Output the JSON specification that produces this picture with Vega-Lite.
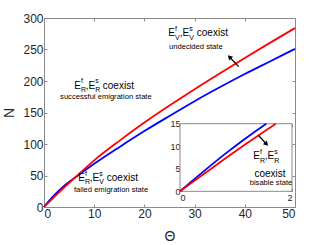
{
  "$schema": "https://vega.github.io/schema/vega-lite/v6.json",
  "width": 251,
  "height": 189,
  "autosize": {"type": "none"},
  "padding": {"left": 44, "top": 18, "right": 32, "bottom": 38},
  "background": "white",
  "config": {
    "view": {"stroke": "#8a8a8a", "strokeWidth": 1},
    "font": "Liberation Sans",
    "axis": {
      "grid": false,
      "tickSize": -3,
      "domainColor": "#8a8a8a",
      "tickColor": "#8a8a8a",
      "labelFont": "Liberation Sans",
      "labelFontSize": 12,
      "labelColor": "#262626",
      "titleFont": "Liberation Sans",
      "titleFontSize": 14,
      "titleFontWeight": "normal",
      "titleColor": "#262626"
    },
    "text": {"font": "Liberation Sans", "color": "#000000"}
  },
  "datasets": {
    "main": [
      {"theta": 0, "n": 0, "s": "blue"},
      {"theta": 1, "n": 9.6, "s": "blue"},
      {"theta": 2, "n": 18.5, "s": "blue"},
      {"theta": 4, "n": 33.5, "s": "blue"},
      {"theta": 6.5, "n": 48.5, "s": "blue"},
      {"theta": 10, "n": 68.5, "s": "blue"},
      {"theta": 15, "n": 95, "s": "blue"},
      {"theta": 20, "n": 120.5, "s": "blue"},
      {"theta": 25, "n": 144.5, "s": "blue"},
      {"theta": 30, "n": 168, "s": "blue"},
      {"theta": 35, "n": 190, "s": "blue"},
      {"theta": 40, "n": 211, "s": "blue"},
      {"theta": 45, "n": 231, "s": "blue"},
      {"theta": 50, "n": 251, "s": "blue"},
      {"theta": 0, "n": 0, "s": "red"},
      {"theta": 1, "n": 7.9, "s": "red"},
      {"theta": 2, "n": 15.6, "s": "red"},
      {"theta": 4, "n": 30.8, "s": "red"},
      {"theta": 6.5, "n": 49, "s": "red"},
      {"theta": 10, "n": 74, "s": "red"},
      {"theta": 15, "n": 105, "s": "red"},
      {"theta": 20, "n": 134, "s": "red"},
      {"theta": 25, "n": 161, "s": "red"},
      {"theta": 30, "n": 187, "s": "red"},
      {"theta": 35, "n": 212, "s": "red"},
      {"theta": 40, "n": 236.5, "s": "red"},
      {"theta": 45, "n": 260.5, "s": "red"},
      {"theta": 50, "n": 284, "s": "red"}
    ],
    "inset": [
      {"theta": 0, "n": 0, "s": "blue"},
      {"theta": 0.4, "n": 4.2, "s": "blue"},
      {"theta": 0.8, "n": 8.25, "s": "blue"},
      {"theta": 1.2, "n": 12.0, "s": "blue"},
      {"theta": 1.54, "n": 15, "s": "blue"},
      {"theta": 0, "n": 0, "s": "red"},
      {"theta": 0.4, "n": 3.6, "s": "red"},
      {"theta": 0.8, "n": 7.2, "s": "red"},
      {"theta": 1.2, "n": 10.7, "s": "red"},
      {"theta": 1.71, "n": 15, "s": "red"}
    ],
    "big": [
      {"theta": 24.76, "n": 270.95, "t": "E"},
      {"theta": 27.05, "n": 270.95, "t": ","},
      {"theta": 27.61, "n": 270.95, "t": "E"},
      {"theta": 30.44, "n": 270.95, "t": "coexist"},
      {"theta": 6.04, "n": 187.8, "t": "E"},
      {"theta": 8.33, "n": 187.8, "t": ","},
      {"theta": 8.88, "n": 187.8, "t": "E"},
      {"theta": 11.71, "n": 187.8, "t": "coexist"},
      {"theta": 6.83, "n": 40.8, "t": "E"},
      {"theta": 9.12, "n": 40.8, "t": ","},
      {"theta": 9.68, "n": 40.8, "t": "E"},
      {"theta": 12.51, "n": 40.8, "t": "coexist"},
      {"theta": 41.69, "n": 75.4, "t": "E"},
      {"theta": 43.98, "n": 75.4, "t": ","},
      {"theta": 44.54, "n": 75.4, "t": "E"},
      {"theta": 41.93, "n": 47.6, "t": "coexist"}
    ],
    "sup": [
      {"theta": 26.1, "n": 279.4, "t": "f"},
      {"theta": 28.94, "n": 279.4, "t": "s"},
      {"theta": 7.37, "n": 196.2, "t": "f"},
      {"theta": 10.22, "n": 196.2, "t": "s"},
      {"theta": 8.17, "n": 49.2, "t": "f"},
      {"theta": 11.02, "n": 49.2, "t": "s"},
      {"theta": 43.03, "n": 83.8, "t": "f"},
      {"theta": 45.88, "n": 83.8, "t": "s"}
    ],
    "sub": [
      {"theta": 26.1, "n": 265.3, "t": "V"},
      {"theta": 28.94, "n": 265.3, "t": "V"},
      {"theta": 7.37, "n": 182.1, "t": "R"},
      {"theta": 10.22, "n": 182.1, "t": "R"},
      {"theta": 8.17, "n": 35.8, "t": "R"},
      {"theta": 11.02, "n": 35.8, "t": "V"},
      {"theta": 43.03, "n": 69.7, "t": "R"},
      {"theta": 45.88, "n": 69.7, "t": "R"}
    ],
    "captions": [
      {"theta": 30.24, "n": 251.3, "t": "undecided state"},
      {"theta": 12.33, "n": 170.8, "t": "successful emigration state"},
      {"theta": 13.35, "n": 23.6, "t": "failed emigration state"},
      {"theta": 45.22, "n": 35.7, "t": "bisable state"}
    ]
  },
  "resolve": {
    "scale": {"x": "independent", "y": "independent"},
    "axis": {"x": "independent", "y": "independent"}
  },
  "layer": [
    {
      "data": {"name": "main"},
      "mark": {"type": "line", "strokeWidth": 1.8, "interpolate": "monotone"},
      "encoding": {
        "x": {
          "field": "theta", "type": "quantitative",
          "scale": {"domain": [0, 50], "nice": false, "zero": false},
          "axis": {"orient": "bottom", "values": [0, 10, 20, 30, 40, 50], "labelPadding": 4, "title": "Θ", "titlePadding": 10}
        },
        "y": {
          "field": "n", "type": "quantitative",
          "scale": {"domain": [0, 300], "nice": false, "zero": false},
          "axis": {"orient": "left", "values": [0, 50, 100, 150, 200, 250, 300], "labelPadding": 4, "title": "N", "titlePadding": 6}
        },
        "color": {"field": "s", "type": "nominal", "scale": {"domain": ["blue", "red"], "range": ["#0000ff", "#ff0000"]}, "legend": null}
      }
    },
    {
      "data": {"values": [{"theta": 0, "n": 0}]},
      "mark": {"type": "point", "opacity": 0},
      "encoding": {
        "x": {"field": "theta", "type": "quantitative", "scale": {"domain": [0, 50], "nice": false, "zero": false},
          "axis": {"orient": "top", "values": [0, 10, 20, 30, 40, 50], "labels": false, "domain": false, "title": null}},
        "y": {"field": "n", "type": "quantitative", "scale": {"domain": [0, 300], "nice": false, "zero": false},
          "axis": {"orient": "right", "values": [0, 50, 100, 150, 200, 250, 300], "labels": false, "domain": false, "title": null}}
      }
    },
    {
      "encoding": {
        "x": {
          "field": "theta", "type": "quantitative",
          "scale": {"domain": [0, 2], "nice": false, "zero": false, "range": [136, 248]},
          "axis": {"orient": "bottom", "offset": -15.7, "values": [0, 1, 2], "format": "d", "labelFontSize": 9, "labelPadding": 5, "title": null, "domain": false}
        },
        "y": {
          "field": "n", "type": "quantitative",
          "scale": {"domain": [0, 15], "nice": false, "zero": false, "range": [173.3, 105.7]},
          "axis": {"orient": "left", "offset": -136, "values": [0, 5, 10, 15], "format": "d", "labelFontSize": 9, "labelPadding": 3, "title": null, "domain": false}
        }
      },
      "layer": [
        {
          "data": {"values": [{"theta": 0, "n": 0, "theta2": 2, "n2": 15}]},
          "mark": {"type": "rect", "fill": "#ffffff", "stroke": "#8a8a8a", "strokeWidth": 1},
          "encoding": {"x2": {"field": "theta2"}, "y2": {"field": "n2"}}
        },
        {
          "data": {"name": "inset"},
          "mark": {"type": "line", "strokeWidth": 1.8, "interpolate": "monotone"},
          "encoding": {
            "color": {"field": "s", "type": "nominal", "scale": {"domain": ["blue", "red"], "range": ["#0000ff", "#ff0000"]}, "legend": null}
          }
        }
      ]
    },
    {
      "data": {"values": [{"theta": 0, "n": 0}]},
      "mark": {"type": "point", "opacity": 0},
      "encoding": {
        "x": {"field": "theta", "type": "quantitative", "scale": {"domain": [0, 2], "nice": false, "zero": false, "range": [136, 248]},
          "axis": {"orient": "top", "offset": -105.7, "values": [0, 1, 2], "labels": false, "domain": false, "title": null}},
        "y": {"field": "n", "type": "quantitative", "scale": {"domain": [0, 15], "nice": false, "zero": false, "range": [173.3, 105.7]},
          "axis": {"orient": "right", "offset": -3, "values": [0, 5, 10, 15], "labels": false, "domain": false, "title": null}}
      }
    },
    {
      "encoding": {
        "x": {"field": "theta", "type": "quantitative", "scale": {"domain": [0, 50], "nice": false, "zero": false}, "axis": null},
        "y": {"field": "n", "type": "quantitative", "scale": {"domain": [0, 300], "nice": false, "zero": false}, "axis": null}
      },
      "layer": [
        {
          "data": {"values": [{"theta": 38.78, "n": 222.7, "theta2": 36.95, "n2": 238.1}, {"theta": 42.73, "n": 113.5, "theta2": 44.32, "n2": 100}]},
          "mark": {"type": "rule", "color": "#000000", "strokeWidth": 1.2},
          "encoding": {"x2": {"field": "theta2"}, "y2": {"field": "n2"}}
        },
        {
          "data": {"values": [{"theta": 36.95, "n": 238.1}]},
          "mark": {"type": "point", "shape": "triangle-up", "filled": true, "color": "#000000", "opacity": 1, "size": 30, "angle": 317}
        },
        {
          "data": {"values": [{"theta": 44.32, "n": 100}]},
          "mark": {"type": "point", "shape": "triangle-up", "filled": true, "color": "#000000", "opacity": 1, "size": 30, "angle": 136.5}
        },
        {
          "data": {"name": "big"},
          "mark": {"type": "text", "align": "left", "baseline": "alphabetic", "fontSize": 10},
          "encoding": {"text": {"field": "t"}}
        },
        {
          "data": {"name": "sup"},
          "mark": {"type": "text", "align": "left", "baseline": "alphabetic", "fontSize": 7},
          "encoding": {"text": {"field": "t"}}
        },
        {
          "data": {"name": "sub"},
          "mark": {"type": "text", "align": "left", "baseline": "alphabetic", "fontSize": 7},
          "encoding": {"text": {"field": "t"}}
        },
        {
          "data": {"name": "captions"},
          "mark": {"type": "text", "align": "center", "baseline": "alphabetic", "fontSize": 7.6},
          "encoding": {"text": {"field": "t"}}
        }
      ]
    }
  ]
}
